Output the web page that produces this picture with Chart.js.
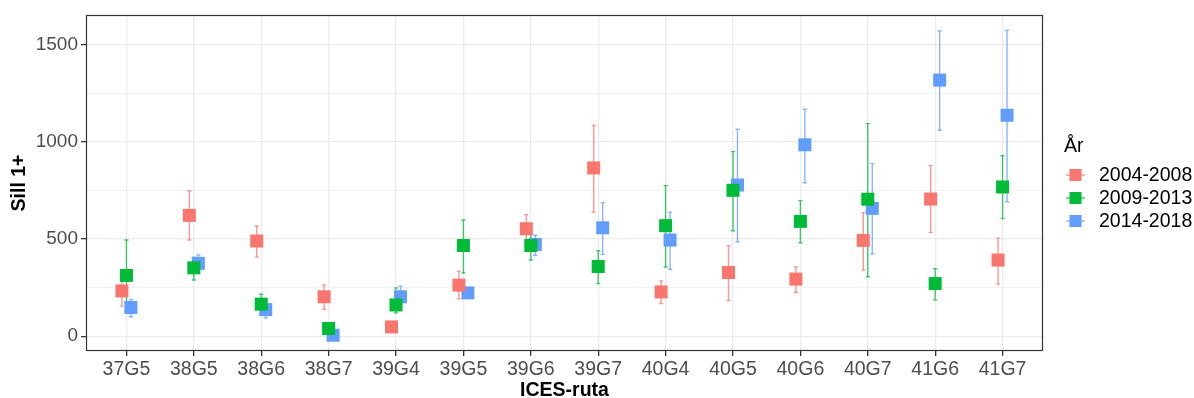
<!DOCTYPE html>
<html><head><meta charset="utf-8">
<script src="https://cdn.jsdelivr.net/npm/chart.js@4/dist/chart.umd.min.js"></script>
<style>html,body{margin:0;padding:0;background:#fff}#wrap{width:1194px;height:398px}</style>
</head><body><div id="wrap"><canvas id="c" width="1194" height="398"></canvas></div>
<script>
const categories = ['37G5','38G5','38G6','38G7','39G4','39G5','39G6','39G7','40G4','40G5','40G6','40G7','41G6','41G7'];
const seriesNames = ['2004-2008','2009-2013','2014-2018'];
const seriesColors = ['#F8766D','#00BA38','#619CFF'];
const barColors = ['rgba(248,118,109,0.75)','rgba(0,186,56,0.75)','rgba(97,156,255,0.75)'];

const mean2004 = [233, 622, 490, 203, 48, 263, 553, 866, 228, 328, 294, 493, 706, 392];
const low2004  = [155, 495, 407, 139, 35, 192, 490, 639, 168, 184, 225, 340, 533, 268];
const high2004 = [310, 749, 567, 263, 60, 335, 625, 1084, 285, 466, 356, 636, 878, 505];

const mean2009 = [313, 352, 165, 40, 161, 467, 467, 359, 569, 751, 591, 705, 271, 768];
const low2009  = [125, 289, 108, 25, 120, 325, 392, 271, 356, 543, 481, 306, 186, 605];
const high2009 = [495, 405, 216, 55, 249, 598, 536, 440, 775, 950, 698, 1094, 347, 929];

const mean2014 = [148, 375, 137, 5, 203, 223, 472, 558, 495, 778, 985, 658, 1318, 1137];
const low2014  = [100, 340, 93, 0, 165, 208, 417, 421, 345, 486, 790, 423, 1060, 692];
const high2014 = [189, 418, 160, 12, 258, 240, 520, 687, 638, 1065, 1168, 888, 1571, 1574];

const yTickValues = [0, 250, 500, 750, 1000, 1250, 1500];
const yTickLabels = [0, 500, 1000, 1500];
const dodge = [-0.0667, 0, 0.0667];

const means = [mean2004, mean2009, mean2014];
const lows = [low2004, low2009, low2014];
const highs = [high2004, high2009, high2014];

const FONT = "'Liberation Sans', Arial, sans-serif";
Chart.defaults.font.family = FONT;

const datasets = seriesNames.map((name, i) => ({
  label: name,
  data: means[i].map((v, j) => ({x: j + dodge[i], y: v})),
  backgroundColor: seriesColors[i],
  borderColor: seriesColors[i],
  borderWidth: 0,
  pointStyle: 'rect',
  pointRadius: 9.2,
  pointHoverRadius: 9.2
}));

const errorBars = {
  id: 'errorBars',
  beforeDatasetsDraw(chart) {
    const {ctx, scales: {x, y}} = chart;
    ctx.save();
    ctx.lineWidth = 1.4;
    for (let i = 0; i < seriesNames.length; i++) {
      ctx.strokeStyle = barColors[i];
      for (let j = 0; j < categories.length; j++) {
        const xc = x.getPixelForValue(j + dodge[i]);
        const xl = x.getPixelForValue(j + dodge[i] - 0.03);
        const xr = x.getPixelForValue(j + dodge[i] + 0.03);
        const yl = y.getPixelForValue(lows[i][j]);
        const yh = y.getPixelForValue(highs[i][j]);
        ctx.beginPath();
        ctx.moveTo(xc, yl); ctx.lineTo(xc, yh);
        ctx.moveTo(xl, yl); ctx.lineTo(xr, yl);
        ctx.moveTo(xl, yh); ctx.lineTo(xr, yh);
        ctx.stroke();
      }
    }
    ctx.restore();
  }
};

const panel = {
  id: 'panel',
  afterDraw(chart) {
    const {ctx, chartArea: a} = chart;
    ctx.save();
    ctx.strokeStyle = '#333333';
    ctx.lineWidth = 1.2;
    ctx.strokeRect(Math.round(a.left) + 0.5, Math.round(a.top) + 0.5, Math.round(a.right - a.left) - 1, Math.round(a.bottom - a.top) - 1);
    // legend
    const lx = a.right + 20;
    ctx.fillStyle = '#000';
    ctx.font = '19.5px ' + FONT;
    ctx.textBaseline = 'middle';
    ctx.textAlign = 'left';
    ctx.fillText('År', lx + 1, 147);
    const rows = [175, 198, 221];
    seriesNames.forEach((n, i) => {
      const cy = rows[i];
      ctx.strokeStyle = barColors[i];
      ctx.lineWidth = 1.4;
      ctx.beginPath(); ctx.moveTo(lx + 3, cy); ctx.lineTo(lx + 22, cy); ctx.stroke();
      ctx.fillStyle = seriesColors[i];
      ctx.fillRect(lx + 6.5, cy - 6, 12, 12);
      ctx.fillStyle = '#000';
      ctx.fillText(n, lx + 36, cy + 1);
    });
    ctx.restore();
  }
};

new Chart(document.getElementById('c'), {
  type: 'scatter',
  data: {datasets},
  options: {
    responsive: false,
    animation: false,
    devicePixelRatio: 1,
    layout: {padding: {left: 0, right: 151, top: 15, bottom: 0}},
    plugins: {legend: {display: false}, tooltip: {enabled: false}},
    scales: {
      x: {
        type: 'linear', min: -0.6, max: 13.6,
        afterBuildTicks: s => { s.ticks = categories.map((c, i) => ({value: i})); },
        afterFit: s => { s.height = 47; },
        ticks: {callback: v => categories[v], color: '#4D4D4D', font: {size: 19.5}, padding: 2, autoSkip: false, maxRotation: 0},
        grid: {color: '#EBEBEB', lineWidth: 1.3, tickColor: '#333333', tickLength: 5},
        border: {display: false},
        title: {display: true, text: 'ICES-ruta', color: '#000', font: {size: 19.5, weight: 'bold', lineHeight: 0.78}, padding: {top: 0, bottom: 0}}
      },
      y: {
        type: 'linear', min: -76, max: 1653,
        afterBuildTicks: s => { s.ticks = yTickValues.map(v => ({value: v})); },
        afterFit: s => { s.width = 86; },
        ticks: {callback: v => yTickLabels.includes(v) ? String(v) : '', color: '#4D4D4D', font: {size: 19}, padding: 3},
        grid: {
          color: '#EBEBEB',
          lineWidth: c => yTickLabels.includes(c.tick && c.tick.value) ? 1.3 : 0.7,
          tickColor: c => yTickLabels.includes(c.tick && c.tick.value) ? '#333333' : 'rgba(0,0,0,0)',
          tickLength: 5
        },
        border: {display: false},
        title: {display: true, text: 'Sill 1+', color: '#000', font: {size: 19.5, weight: 'bold', lineHeight: 1.2}, padding: {top: 8, bottom: 0}}
      }
    }
  },
  plugins: [errorBars, panel]
});
</script></body></html>
